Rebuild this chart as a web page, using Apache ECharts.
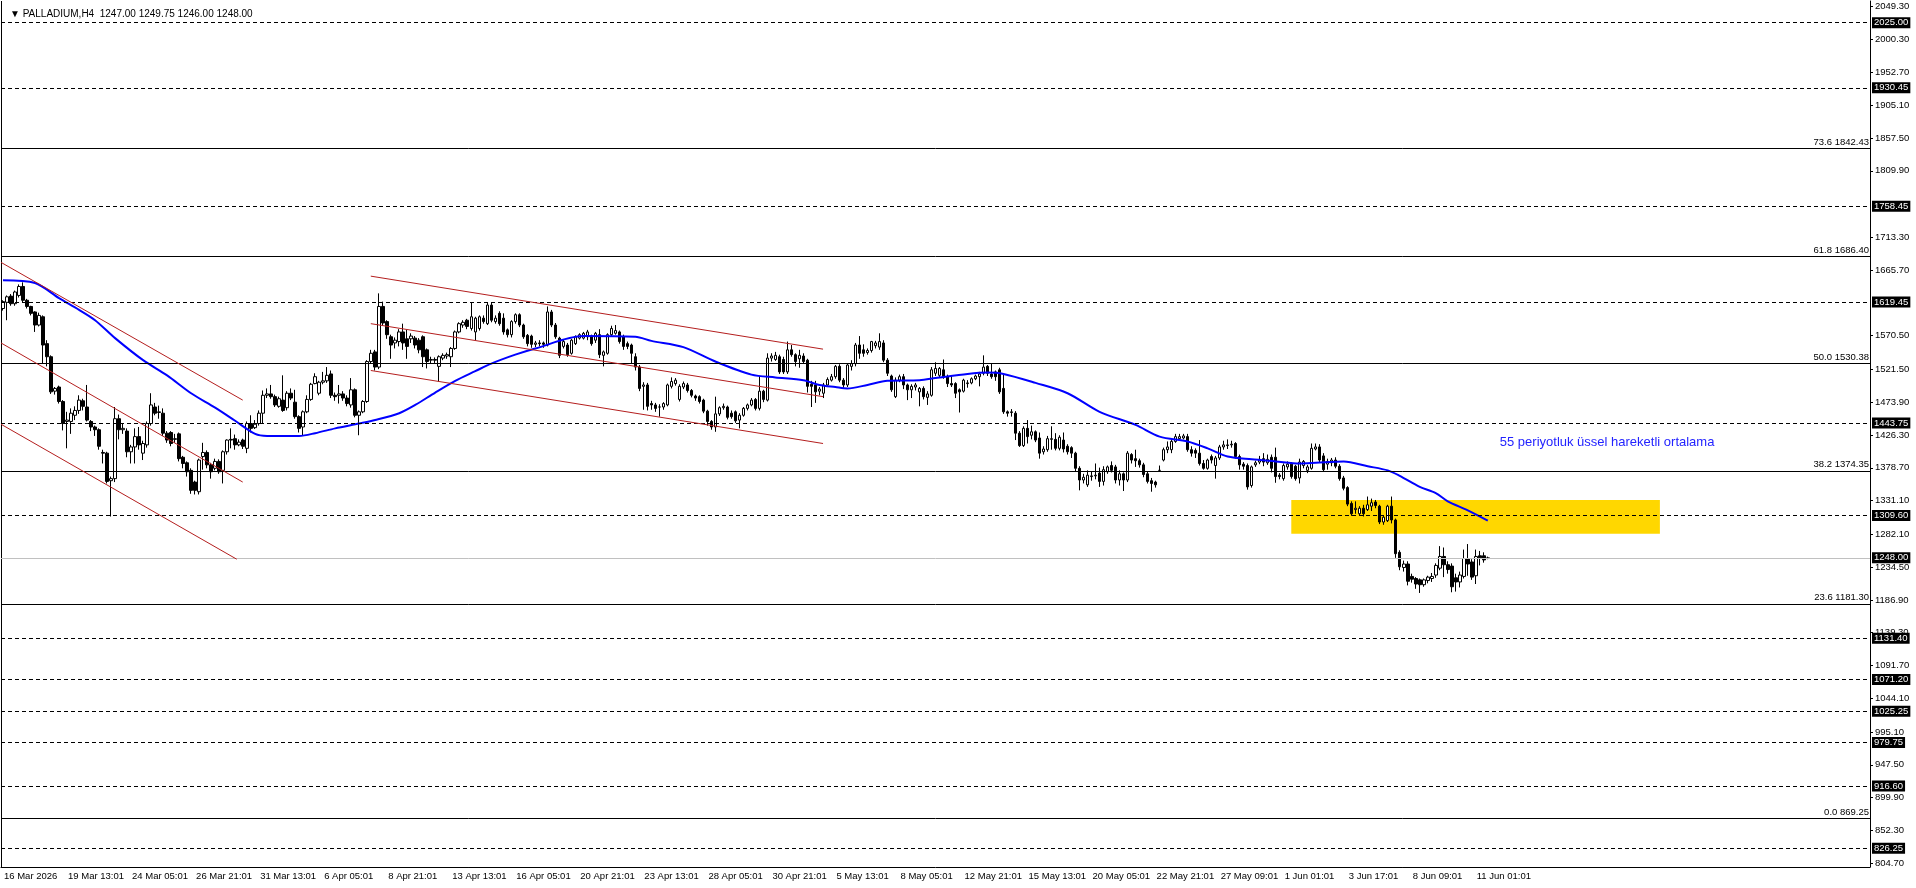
<!DOCTYPE html>
<html>
<head>
<meta charset="utf-8">
<title>PALLADIUM,H4</title>
<script src="https://cdn.jsdelivr.net/npm/echarts@6/dist/echarts.min.js"></script>
<style>
    html, body { margin: 0; padding: 0; background: #fff; }
    #chart { width: 1916px; height: 888px; }
</style>
</head>
<body>
<div id="chart"></div>
<script>
// H4 bars, [open, close, low, high] (16 Mar 21:01 .. 11 Jun 13:01)
const candles = [
    [1610,1620,1607,1622],[1619,1627,1593,1629],[1628,1617,1614,1631],[1617,1634,1614,1636],
    [1629,1642,1626,1645],[1642,1622,1618,1648],[1622,1613,1610,1624],[1613,1603,1600,1614],
    [1605,1586,1576,1606],[1586,1600,1584,1604],[1598,1557,1530,1600],[1559,1540,1526,1564],
    [1540,1489,1486,1542],[1490,1494,1485,1496],[1496,1475,1472,1498],[1475,1443,1433,1477],
    [1446,1448,1407,1460],[1446,1458,1428,1465],[1455,1462,1448,1468],[1462,1477,1457,1484],
    [1476,1468,1462,1479],[1467,1448,1446,1499],[1446,1438,1432,1448],[1438,1434,1425,1440],
    [1434,1410,1405,1436],[1401,1400,1385,1405],[1400,1359,1356,1402],[1360,1363,1308,1366],
    [1363,1450,1358,1467],[1450,1434,1420,1456],[1434,1436,1428,1443],[1432,1402,1394,1436],
    [1402,1409,1385,1412],[1409,1424,1385,1436],[1424,1412,1405,1438],[1400,1414,1390,1418],
    [1412,1443,1408,1446],[1443,1470,1440,1487],[1467,1458,1455,1473],[1459,1460,1450,1469],
    [1458,1429,1425,1465],[1429,1419,1415,1432],[1430,1414,1410,1432],[1420,1421,1415,1428],
    [1428,1392,1388,1430],[1394,1385,1378,1396],[1386,1373,1366,1388],[1375,1346,1341,1378],
    [1358,1346,1340,1360],[1344,1390,1340,1392],[1395,1401,1376,1415],[1401,1383,1378,1404],
    [1383,1373,1363,1386],[1378,1388,1375,1392],[1388,1373,1370,1391],[1375,1402,1356,1404],
    [1402,1419,1398,1420],[1420,1419,1407,1436],[1421,1412,1405,1427],[1412,1416,1410,1420],
    [1419,1410,1406,1421],[1407,1443,1400,1446],[1443,1436,1430,1455],[1437,1442,1435,1448],
    [1443,1458,1440,1462],[1458,1484,1443,1491],[1484,1486,1480,1494],[1486,1482,1479,1499],
    [1482,1470,1467,1485],[1468,1479,1466,1482],[1477,1462,1460,1513],[1466,1487,1462,1490],
    [1487,1480,1477,1494],[1474,1453,1450,1492],[1453,1436,1430,1455],[1438,1460,1426,1462],
    [1460,1478,1458,1484],[1478,1500,1476,1502],[1501,1511,1500,1516],[1487,1503,1484,1505],
    [1503,1505,1500,1518],[1505,1513,1502,1525],[1515,1484,1480,1520],[1484,1482,1476,1488],
    [1484,1486,1472,1499],[1486,1480,1476,1490],[1480,1472,1468,1484],[1470,1492,1466,1509],
    [1492,1455,1452,1494],[1455,1460,1426,1462],[1460,1475,1458,1477],[1475,1533,1473,1535],
    [1533,1545,1530,1550],[1547,1525,1520,1550],[1525,1613,1522,1632],[1613,1589,1585,1620],
    [1591,1572,1566,1593],[1569,1557,1537,1572],[1560,1564,1552,1568],[1562,1576,1555,1580],
    [1576,1560,1550,1588],[1566,1555,1537,1579],[1566,1570,1560,1574],[1567,1557,1552,1570],
    [1564,1550,1545,1567],[1569,1540,1525,1571],[1550,1533,1523,1552],[1535,1536,1530,1540],
    [1536,1535,1531,1539],[1526,1540,1504,1542],[1538,1542,1535,1545],[1541,1543,1537,1546],
    [1540,1552,1525,1554],[1552,1576,1550,1578],[1576,1588,1574,1590],[1586,1590,1582,1593],
    [1593,1584,1580,1595],[1581,1598,1578,1619],[1576,1596,1564,1598],[1581,1598,1578,1600],
    [1596,1591,1588,1600],[1588,1615,1586,1619],[1615,1593,1590,1619],[1591,1596,1588,1600],
    [1603,1588,1585,1606],[1596,1576,1572,1603],[1579,1572,1568,1581],[1572,1591,1568,1593],
    [1591,1601,1588,1603],[1601,1586,1583,1603],[1586,1569,1566,1588],[1571,1559,1555,1573],
    [1570,1558,1553,1572],[1558,1560,1554,1563],[1560,1559,1555,1564],[1560,1558,1553,1562],
    [1557,1605,1555,1613],[1605,1586,1583,1608],[1586,1569,1566,1589],[1567,1542,1538,1569],
    [1555,1562,1552,1565],[1557,1543,1540,1560],[1545,1564,1543,1566],[1559,1569,1557,1571],
    [1567,1572,1565,1574],[1567,1574,1565,1576],[1569,1576,1564,1579],[1569,1559,1556,1572],
    [1564,1574,1560,1576],[1572,1543,1538,1580],[1542,1547,1526,1549],[1545,1572,1543,1574],
    [1572,1581,1570,1585],[1574,1578,1572,1586],[1576,1562,1559,1578],[1569,1555,1550,1572],
    [1559,1555,1551,1562],[1557,1545,1530,1559],[1540,1525,1520,1545],[1525,1494,1490,1528],
    [1497,1499,1463,1503],[1499,1468,1462,1502],[1472,1470,1463,1476],[1470,1465,1460,1473],
    [1467,1467,1453,1471],[1467,1472,1463,1474],[1470,1499,1468,1501],[1497,1504,1494,1510],
    [1501,1506,1498,1509],[1478,1497,1475,1500],[1496,1501,1493,1504],[1499,1491,1488,1502],
    [1491,1484,1481,1493],[1483,1480,1476,1485],[1482,1475,1472,1484],[1477,1461,1458,1479],
    [1461,1446,1440,1463],[1446,1438,1434,1448],[1438,1457,1431,1482],[1457,1466,1454,1468],
    [1466,1468,1463,1472],[1467,1452,1449,1469],[1458,1453,1450,1462],[1460,1447,1444,1462],
    [1448,1455,1436,1458],[1455,1465,1453,1467],[1465,1470,1462,1472],[1470,1477,1468,1480],
    [1478,1465,1462,1480],[1465,1490,1462,1512],[1490,1478,1474,1492],[1477,1538,1475,1545],
    [1538,1541,1533,1545],[1536,1542,1534,1547],[1540,1518,1515,1543],[1536,1518,1515,1540],
    [1518,1550,1515,1562],[1550,1543,1540,1557],[1543,1533,1526,1545],[1537,1542,1524,1550],
    [1541,1533,1530,1545],[1535,1497,1488,1537],[1500,1497,1467,1505],[1499,1489,1473,1505],
    [1490,1493,1484,1496],[1487,1499,1480,1502],[1499,1507,1498,1510],[1506,1511,1504,1515],
    [1511,1526,1508,1528],[1526,1506,1503,1529],[1506,1499,1495,1509],[1499,1528,1496,1530],
    [1526,1530,1520,1535],[1530,1557,1526,1560],[1557,1545,1537,1570],[1550,1545,1540,1558],
    [1546,1549,1543,1552],[1549,1562,1546,1563],[1556,1560,1552,1563],[1554,1562,1550,1574],
    [1560,1535,1532,1564],[1535,1516,1512,1538],[1512,1492,1489,1514],[1482,1506,1480,1510],
    [1506,1511,1503,1514],[1511,1499,1493,1515],[1499,1492,1477,1501],[1492,1497,1480,1500],
    [1496,1499,1491,1502],[1489,1494,1468,1496],[1494,1482,1478,1497],[1481,1486,1470,1490],
    [1484,1521,1482,1525],[1516,1523,1512,1532],[1513,1523,1510,1525],[1521,1511,1508,1536],
    [1511,1501,1496,1514],[1501,1499,1496,1512],[1501,1487,1480,1503],[1492,1489,1459,1494],
    [1490,1506,1488,1508],[1501,1502,1495,1506],[1502,1508,1500,1510],[1508,1512,1506,1514],
    [1511,1515,1497,1518],[1516,1525,1513,1542],[1526,1516,1512,1528],[1515,1511,1508,1530],
    [1518,1511,1505,1520],[1521,1489,1486,1524],[1494,1460,1457,1516],[1460,1458,1453,1462],
    [1459,1460,1453,1464],[1458,1429,1419,1461],[1429,1411,1409,1432],[1411,1436,1409,1439],
    [1436,1424,1414,1448],[1426,1431,1420,1440],[1431,1419,1416,1433],[1422,1400,1392,1430],
    [1402,1406,1398,1410],[1405,1421,1402,1425],[1420,1421,1405,1439],[1420,1407,1404,1429],
    [1407,1423,1404,1426],[1419,1406,1401,1430],[1410,1402,1398,1413],[1408,1400,1393,1410],
    [1400,1378,1374,1402],[1378,1361,1346,1381],[1361,1365,1356,1370],[1354,1368,1351,1375],
    [1366,1367,1360,1374],[1367,1368,1362,1385],[1371,1359,1351,1379],[1359,1376,1353,1381],
    [1373,1380,1370,1382],[1382,1375,1372,1388],[1380,1361,1356,1383],[1361,1370,1353,1375],
    [1370,1361,1345,1372],[1361,1400,1358,1403],[1398,1390,1385,1400],[1392,1389,1380,1405],
    [1389,1383,1379,1392],[1383,1369,1365,1386],[1370,1359,1356,1373],[1360,1356,1344,1364],
    [1358,1354,1350,1360],[1375,1375,1374,1382],[1390,1405,1388,1408],[1405,1409,1400,1417],
    [1405,1417,1400,1420],[1417,1424,1415,1428],[1421,1424,1418,1428],[1422,1425,1420,1428],
    [1424,1405,1402,1428],[1405,1400,1395,1410],[1404,1400,1393,1407],[1400,1385,1382,1419],
    [1385,1378,1376,1390],[1378,1390,1376,1392],[1395,1390,1385,1398],[1382,1393,1363,1396],
    [1393,1409,1390,1412],[1409,1412,1405,1418],[1411,1412,1406,1420],[1412,1413,1408,1418],
    [1414,1395,1392,1416],[1395,1383,1376,1398],[1384,1381,1376,1387],[1382,1351,1347,1385],
    [1353,1380,1350,1382],[1383,1386,1380,1389],[1387,1391,1384,1396],[1392,1387,1381,1400],
    [1386,1391,1383,1398],[1394,1378,1372,1398],[1394,1366,1357,1408],[1368,1366,1362,1371],
    [1363,1382,1360,1385],[1380,1384,1376,1388],[1384,1366,1363,1387],[1381,1363,1360,1383],
    [1364,1387,1356,1392],[1382,1388,1378,1390],[1375,1380,1371,1383],[1378,1407,1376,1414],
    [1406,1409,1404,1414],[1409,1390,1386,1413],[1396,1376,1374,1400],[1384,1388,1376,1392],
    [1386,1390,1381,1393],[1390,1381,1378,1394],[1381,1363,1360,1384],[1364,1349,1346,1367],
    [1350,1326,1323,1352],[1327,1312,1309,1330],[1318,1320,1312,1330],[1312,1320,1309,1323],
    [1320,1312,1308,1325],[1318,1325,1316,1337],[1323,1328,1316,1334],[1329,1324,1320,1332],
    [1323,1300,1297,1325],[1300,1307,1296,1309],[1302,1323,1300,1325],[1323,1303,1298,1337],
    [1303,1254,1248,1305],[1256,1235,1230,1259],[1234,1239,1228,1244],[1239,1214,1208,1243],
    [1221,1217,1212,1225],[1218,1210,1203,1220],[1216,1209,1197,1218],[1209,1216,1206,1218],
    [1215,1220,1211,1222],[1218,1221,1213,1226],[1223,1237,1219,1240],[1233,1250,1230,1265],
    [1250,1238,1220,1263],[1238,1231,1225,1243],[1236,1206,1198,1240],[1219,1213,1199,1225],
    [1213,1223,1205,1228],[1221,1247,1218,1260],[1247,1239,1222,1268],[1242,1220,1216,1246],
    [1222,1250,1210,1260],[1251,1248,1237,1258],[1251,1245,1241,1256],[1247,1248,1246,1249.75]
];

// EMA(55) read at selected bars: [bar index, price]
const emaPoints = [
    [0,1651],[8,1647],[14,1625],[19,1608],[23,1593],[28,1567],[35,1535],[41,1513],
    [47,1487],[53,1466],[58,1447],[63,1428],[66,1425],[74,1425],[78,1429],[83,1436],
    [89,1443],[93,1448],[99,1458],[103,1470],[108,1488],[113,1505],[118,1519],[122,1530],
    [128,1543],[133,1552],[145,1570],[158,1569],[162,1563],[170,1554],[178,1533],[187,1514],
    [193,1510],[200,1506],[204,1499],[208,1496],[211,1494],[216,1499],[221,1505],[229,1506],
    [233,1509],[241,1515],[246,1517],[250,1515],[258,1502],[266,1487],[274,1460],[283,1441],
    [289,1424],[296,1417],[301,1407],[306,1395],[312,1391],[318,1388],[324,1385],[328,1386],
    [335,1388],[341,1381],[346,1375],[349,1367],[354,1351],[358,1342],[361,1330],[366,1317],
    [371,1302]
];

const timeLabels = [
    '16 Mar 2026', '19 Mar 13:01', '24 Mar 05:01', '26 Mar 21:01', '31 Mar 13:01', '6 Apr 05:01',
    '8 Apr 21:01', '13 Apr 13:01', '16 Apr 05:01', '20 Apr 21:01', '23 Apr 13:01', '28 Apr 05:01',
    '30 Apr 21:01', '5 May 13:01', '8 May 05:01', '12 May 21:01', '15 May 13:01', '20 May 05:01',
    '22 May 21:01', '27 May 09:01', '1 Jun 01:01', '3 Jun 17:01', '8 Jun 09:01', '11 Jun 01:01'
];

const yTicks = [
    2049.30, 2000.30, 1952.70, 1905.10, 1857.50, 1809.90, 1713.30, 1665.70, 1570.50, 1521.50,
    1473.90, 1426.30, 1378.70, 1331.10, 1282.10, 1234.50, 1186.90, 1139.30, 1091.70, 1044.10,
    995.10, 947.50, 899.90, 852.30, 804.70
];

const dashedLevels = [2025.00, 1930.45, 1758.45, 1619.45, 1443.75, 1309.60, 1131.40, 1071.20, 1025.25, 979.75, 916.60, 826.25];
const bidPrice = 1248.00;
const fibPercents = ['73.6', '61.8', '50.0', '38.2', '23.6', '0.0'];
const fibPrices = [1842.43, 1686.40, 1530.38, 1374.35, 1181.30, 869.25];

// trend channels, [bar index, price] at each end
const channelLines = [
    [[-0.5, 1677], [59.9, 1477]],
    [[-0.5, 1560], [59.9, 1358]],
    [[-0.5, 1442], [58.4, 1246]],
    [[91.9, 1657], [204.9, 1551]],
    [[91.9, 1588], [204.9, 1482]],
    [[91.9, 1520], [204.9, 1414]]
];
const zoneBox = [[321.9, 1332], [414, 1283]];
const noteText = '55 periyotluk üssel hareketli ortalama';
const noteAt = [374, 1415];

const header = 'PALLADIUM,H4  1247.00 1249.75 1246.00 1248.00';

const SLOTS = 467; // bar slots across the plot, empty ones on the right
const Y_MIN = 799.1;
const Y_MAX = 2056.5;
const FONT = 'Liberation Sans';

let categories = [];
for (let i = 0; i < SLOTS; i++) categories.push(String(i));

function labelAt(idx) {
    if (idx % 16 !== 0) return '';
    return timeLabels[idx / 16] || '';
}

let levelLines = dashedLevels.map(v => ({
    yAxis: v,
    lineStyle: { color: '#000', width: 1, type: [4, 3] },
    label: {
        show: true, position: 'end', distance: 2,
        formatter: () => v.toFixed(2),
        color: '#fff', backgroundColor: '#000',
        padding: [1, 2, 0, 2], fontSize: 9.5, fontFamily: FONT
    }
}));
levelLines.push({
    yAxis: bidPrice,
    lineStyle: { color: '#c0c0c0', width: 1, type: 'solid' },
    label: {
        show: true, position: 'end', distance: 2,
        formatter: () => bidPrice.toFixed(2),
        color: '#fff', backgroundColor: '#000',
        padding: [1, 2, 0, 2], fontSize: 9.5, fontFamily: FONT
    }
});
fibPrices.forEach((v, i) => {
    levelLines.push({
        yAxis: v,
        lineStyle: { color: '#000', width: 1, type: 'solid' },
        label: {
            show: true, position: 'insideEndTop', distance: 1,
            formatter: () => fibPercents[i] + ' ' + v.toFixed(2),
            color: '#000', fontSize: 9.5, fontFamily: FONT
        }
    });
});

let chart = echarts.init(document.getElementById('chart'));
chart.setOption({
    animation: false,
    backgroundColor: '#fff',
    title: {
        text: '▼ ' + header,
        left: 5, top: 4,
        textStyle: { fontSize: 10, fontWeight: 'normal', color: '#000', fontFamily: FONT }
    },
    grid: { left: 1, right: 46, top: 1, bottom: 21 },
    xAxis: [{
        type: 'category',
        data: categories,
        boundaryGap: true,
        axisLine: { onZero: false, lineStyle: { color: '#000', width: 1 } },
        axisTick: {
            alignWithLabel: true, length: 4,
            interval: (i) => labelAt(i) !== '',
            lineStyle: { color: '#000' }
        },
        axisLabel: {
            interval: (i) => labelAt(i) !== '',
            formatter: (v, i) => labelAt(i),
            align: 'left', margin: 4, padding: [0, 0, 0, 1],
            color: '#000', fontSize: 9.5, fontFamily: FONT
        },
        splitLine: { show: false }
    }, {
        type: 'value', min: -0.5, max: SLOTS - 0.5, show: false
    }],
    yAxis: {
        type: 'value', position: 'right',
        min: Y_MIN, max: Y_MAX,
        axisLine: { show: true, onZero: false, lineStyle: { color: '#000', width: 1 } },
        axisTick: { show: true, customValues: yTicks, length: 3, lineStyle: { color: '#000' } },
        axisLabel: {
            customValues: yTicks, formatter: v => v.toFixed(2),
            margin: 5, color: '#000', fontSize: 9.5, fontFamily: FONT
        },
        splitLine: { show: false }
    },
    series: [{
        // highlighted zone under everything, plus the left frame edge
        type: 'line', xAxisIndex: 1, data: [], z: 1, silent: true,
        markArea: {
            silent: true,
            itemStyle: { color: '#ffd700', opacity: 1 },
            data: [[{ coord: zoneBox[0] }, { coord: zoneBox[1] }]]
        },
        markLine: {
            silent: true, symbol: ['none', 'none'], animation: false,
            lineStyle: { color: '#000', width: 1, type: 'solid' },
            label: { show: false },
            data: [{ xAxis: -0.5 }]
        }
    }, {
        type: 'candlestick',
        data: candles,
        barWidth: 3,
        z: 2,
        silent: true,
        itemStyle: {
            color: '#fff', color0: '#000',
            borderColor: '#000', borderColor0: '#000', borderWidth: 1
        },
        markLine: {
            silent: true, symbol: ['none', 'none'], animation: false,
            data: levelLines
        }
    }, {
        type: 'line', name: 'EMA 55', xAxisIndex: 1,
        data: emaPoints, z: 3, silent: true,
        showSymbol: false, smooth: 0.3,
        lineStyle: { color: '#0000ff', width: 2 },
        markLine: {
            silent: true, symbol: ['none', 'none'], animation: false,
            lineStyle: { color: '#b41e1e', width: 1, type: 'solid' },
            label: { show: false },
            data: channelLines.map(l => [{ coord: l[0] }, { coord: l[1] }])
        },
        markPoint: {
            silent: true, symbol: 'circle', symbolSize: 0,
            data: [{
                coord: noteAt,
                label: {
                    show: true, position: 'right', distance: 0,
                    formatter: noteText,
                    color: '#2323ff', fontSize: 13, fontFamily: FONT
                }
            }]
        }
    }]
});
</script>
</body>
</html>
